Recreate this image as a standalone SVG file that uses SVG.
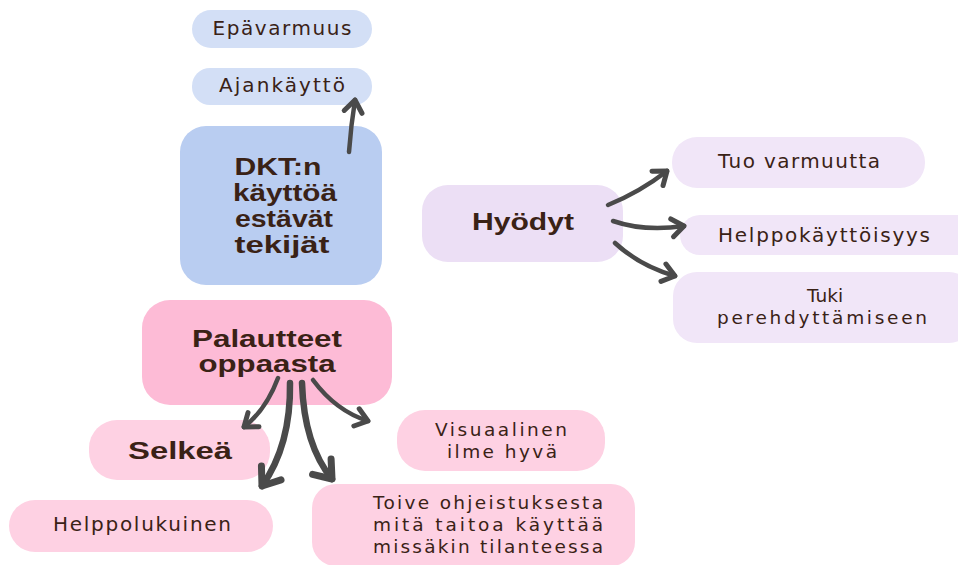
<svg xmlns="http://www.w3.org/2000/svg" width="958" height="565" viewBox="0 0 958 565">
<style>
.t{font-family:"DejaVu Sans","Noto Sans",sans-serif;fill:#3a2216;font-size:20px;text-anchor:middle}
.m{font-size:18.5px}
.b{font-family:"Liberation Sans",Arial,sans-serif;font-weight:700;font-size:23px}
.blue1{fill:#b9cdf1}
.blue2{fill:#d3dff6}
.lil1{fill:#ecdff5}
.lil2{fill:#f1e6f8}
.pk1{fill:#fdbbd6}
.pk2{fill:#fed1e3}
.c{fill:none;stroke:#4a4a4a;stroke-linecap:round;stroke-linejoin:round}
.thin{stroke-width:4.5;marker-end:url(#ah)}
.thick{stroke-width:6.5;marker-end:url(#ahk)}
</style>
<defs>
<marker id="ah" markerUnits="userSpaceOnUse" markerWidth="40" markerHeight="40" refX="0" refY="0" orient="auto" overflow="visible"><path d="M-12,-9 L0,0 L-12,9" fill="none" stroke="#4a4a4a" stroke-width="5" stroke-linecap="round" stroke-linejoin="round"/></marker>
<marker id="ahk" markerUnits="userSpaceOnUse" markerWidth="40" markerHeight="40" refX="0" refY="0" orient="auto" overflow="visible"><path d="M-16,-12 L0,0 L-16,12" fill="none" stroke="#4a4a4a" stroke-width="7" stroke-linecap="round" stroke-linejoin="round"/></marker>
</defs>
<rect width="958" height="565" fill="#ffffff"/>

<g id="epavarmuus"><rect class="blue2" x="192" y="10" width="180" height="38" rx="19"/><text class="t" x="282" y="35" textLength="139">Epävarmuus</text></g>
<g id="ajankaytto"><rect class="blue2" x="192" y="68" width="180" height="37" rx="18"/><text class="t" x="282" y="92" textLength="126">Ajankäyttö</text></g>
<g id="dkt"><rect class="blue1" x="180" y="126" width="202" height="159" rx="26"/>
<text class="t b" x="278" y="175" textLength="87" lengthAdjust="spacingAndGlyphs">DKT:n</text><text class="t b" x="285" y="201" textLength="104" lengthAdjust="spacingAndGlyphs">käyttöä</text><text class="t b" x="284" y="227" textLength="98" lengthAdjust="spacingAndGlyphs">estävät</text><text class="t b" x="282" y="253" textLength="95" lengthAdjust="spacingAndGlyphs">tekijät</text></g>

<g id="hyodyt"><rect class="lil1" x="422" y="185" width="201" height="77" rx="26"/><text class="t b" x="523" y="230" font-size="27" textLength="102" lengthAdjust="spacingAndGlyphs">Hyödyt</text></g>
<g id="tuo"><rect class="lil2" x="672" y="137" width="253" height="51" rx="25"/><text class="t" x="799" y="168" textLength="162">Tuo varmuutta</text></g>
<g id="helppokaytto"><rect class="lil2" x="680" y="215" width="300" height="40" rx="20"/><text class="t" x="824" y="242" textLength="212">Helppokäyttöisyys</text></g>
<g id="tuki"><rect class="lil2" x="673" y="272" width="300" height="71" rx="24"/><text class="t m" x="825" y="302">Tuki</text><text class="t m" x="822" y="324" textLength="210">perehdyttämiseen</text></g>

<g id="palautteet"><rect class="pk1" x="142" y="300" width="250" height="105" rx="28"/><text class="t b" x="267" y="347" font-size="22" textLength="150" lengthAdjust="spacingAndGlyphs">Palautteet</text><text class="t b" x="267" y="372" font-size="22" textLength="137" lengthAdjust="spacingAndGlyphs">oppaasta</text></g>
<g id="selkea"><rect class="pk2" x="89" y="420" width="181" height="60" rx="28"/><text class="t b" x="180" y="459" font-size="28" textLength="104" lengthAdjust="spacingAndGlyphs">Selkeä</text></g>
<g id="visuaalinen"><rect class="pk2" x="397" y="410" width="208" height="61" rx="28"/><text class="t m" x="501" y="436" textLength="132">Visuaalinen</text><text class="t m" x="502" y="458" textLength="110">ilme hyvä</text></g>
<g id="helppolukuinen"><rect class="pk2" x="9" y="500" width="264" height="52" rx="26"/><text class="t" x="142" y="531" textLength="178">Helppolukuinen</text></g>
<g id="toive"><rect class="pk2" x="312" y="484" width="323" height="82" rx="24"/><text class="t m" x="488" y="509" textLength="230">Toive ohjeistuksesta</text><text class="t m" x="488" y="531" textLength="230">mitä taitoa käyttää</text><text class="t m" x="488" y="553" textLength="230">missäkin tilanteessa</text></g>

<g id="connectors">
<path class="c thin" d="M349,152 Q351,125 355,100"/>
<path class="c thin" d="M608,205 Q640,192 667,171"/>
<path class="c thin" d="M613,221 Q645,232 684,226"/>
<path class="c thin" d="M615,243 Q640,266 675,276"/>
<path class="c thin" d="M278,378 Q266,410 244,427"/>
<path class="c thick" d="M290,383 Q291,445 262,486"/>
<path class="c thick" d="M302,383 Q304,445 332,479"/>
<path class="c thin" d="M313,380 Q336,411 368,421"/>
</g>
</svg>
